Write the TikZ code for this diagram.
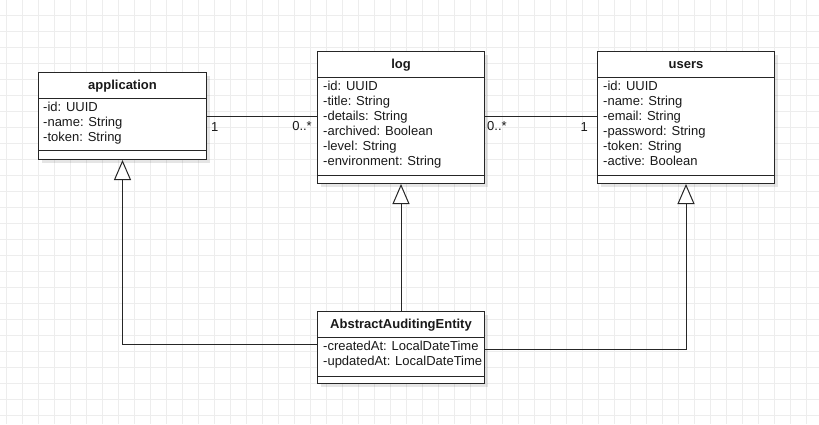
\documentclass[tikz,border=0pt]{standalone}
\usepackage{fontspec}
\setmainfont{Liberation Sans}
\usetikzlibrary{arrows.meta,shadows}
\begin{document}
\begin{tikzpicture}[x=1pt,y=-1pt,
  every node/.style={font=\fontsize{13}{15}\selectfont,text=black!90},
  umlclass/.style={draw=black!85,line width=1pt,fill=white,anchor=north west,
    minimum width=168pt,inner sep=0pt,
    drop shadow={shadow xshift=3pt,shadow yshift=-3pt,opacity=0.1,fill=black}},
  ctitle/.style={font=\fontsize{13}{15}\selectfont\bfseries,inner sep=0pt,text height=9.3pt,text depth=0pt},
  attr/.style={anchor=west,inner sep=0pt,text height=9.3pt,text depth=0pt},
  mult/.style={inner sep=0pt,text height=9.3pt,text depth=0pt},
  gridline/.style={draw=black!7,line width=1pt},
  assoc/.style={draw=black!85,line width=1pt},
  inherit/.style={draw=black!85,line width=1pt,-{Triangle[fill=white,length=20pt,width=17pt]}}]

\useasboundingbox (0,0) rectangle (819,424);
\fill[white] (0,0) rectangle (819,424);
\foreach \x in {6,22,...,819}
{
    \draw[gridline] (\x,0)--(\x,424);
}
\foreach \y in {15,31,...,424}
{
    \draw[gridline] (0,\y)--(819,\y);
}

% classes
\node[umlclass,minimum height=87pt] (app) at (38,72) {};
\node[umlclass,minimum height=132pt,minimum width=167pt] (log) at (317,51) {};
\node[umlclass,minimum height=132pt,minimum width=177pt] (users) at (597,51) {};
\node[umlclass,minimum height=72pt,minimum width=167pt] (abs) at (317,311) {};

\foreach \c/\sep in {app/10,log/9,users/9,abs/8}
{
    \draw[assoc] ([yshift=-26pt]\c.north west)--([yshift=-26pt]\c.north east);
    \draw[assoc] ([yshift=\sep pt]\c.south west)--([yshift=\sep pt]\c.south east);
}

\node[ctitle] (app-t) at ([yshift=-13pt]app.north) {application};
\node[ctitle] (log-t) at ([yshift=-13pt]log.north) {log};
\node[ctitle] (users-t) at ([yshift=-13pt]users.north) {users};
\node[ctitle] (abs-t) at ([yshift=-13pt]abs.north) {AbstractAuditingEntity};

\foreach \i/\txt in {0/{-id: UUID},1/{-name: String},2/{-token: String}}
{
    \node[attr] (app-a\i) at (43,106.5+15*\i) {\txt};
}
\foreach \i/\txt in {0/{-id: UUID},1/{-title: String},2/{-details: String},3/{-archived: Boolean},4/{-level: String},5/{-environment: String}}
{
    \node[attr] (log-a\i) at (323,85.5+15*\i) {\txt};
}
\foreach \i/\txt in {0/{-id: UUID},1/{-name: String},2/{-email: String},3/{-password: String},4/{-token: String},5/{-active: Boolean}}
{
    \node[attr] (users-a\i) at (603,85.5+15*\i) {\txt};
}
\foreach \i/\txt in {0/{-createdAt: LocalDateTime},1/{-updatedAt: LocalDateTime}}
{
    \node[attr] (abs-a\i) at (323,346+15*\i) {\txt};
}

% associations
\draw[assoc] (app.east)--(log.west |- app.east);
\draw[assoc] (log.east |- app.east)--(users.west |- app.east);
\node[mult,anchor=west] (m-app) at (211,127) {1};
\node[mult,anchor=east] (m-log1) at (312,126) {0..*};
\node[mult,anchor=west] (m-log2) at (487,126) {0..*};
\node[mult,anchor=east] (m-users) at (588,127) {1};

% inheritance
\draw[inherit] (abs.north)--(log.south);
\draw[inherit] ([yshift=3pt]abs.west)-|(app.south);
\draw[inherit] ([yshift=-2pt]abs.east)-|(users.south);
\end{tikzpicture}
\end{document}
